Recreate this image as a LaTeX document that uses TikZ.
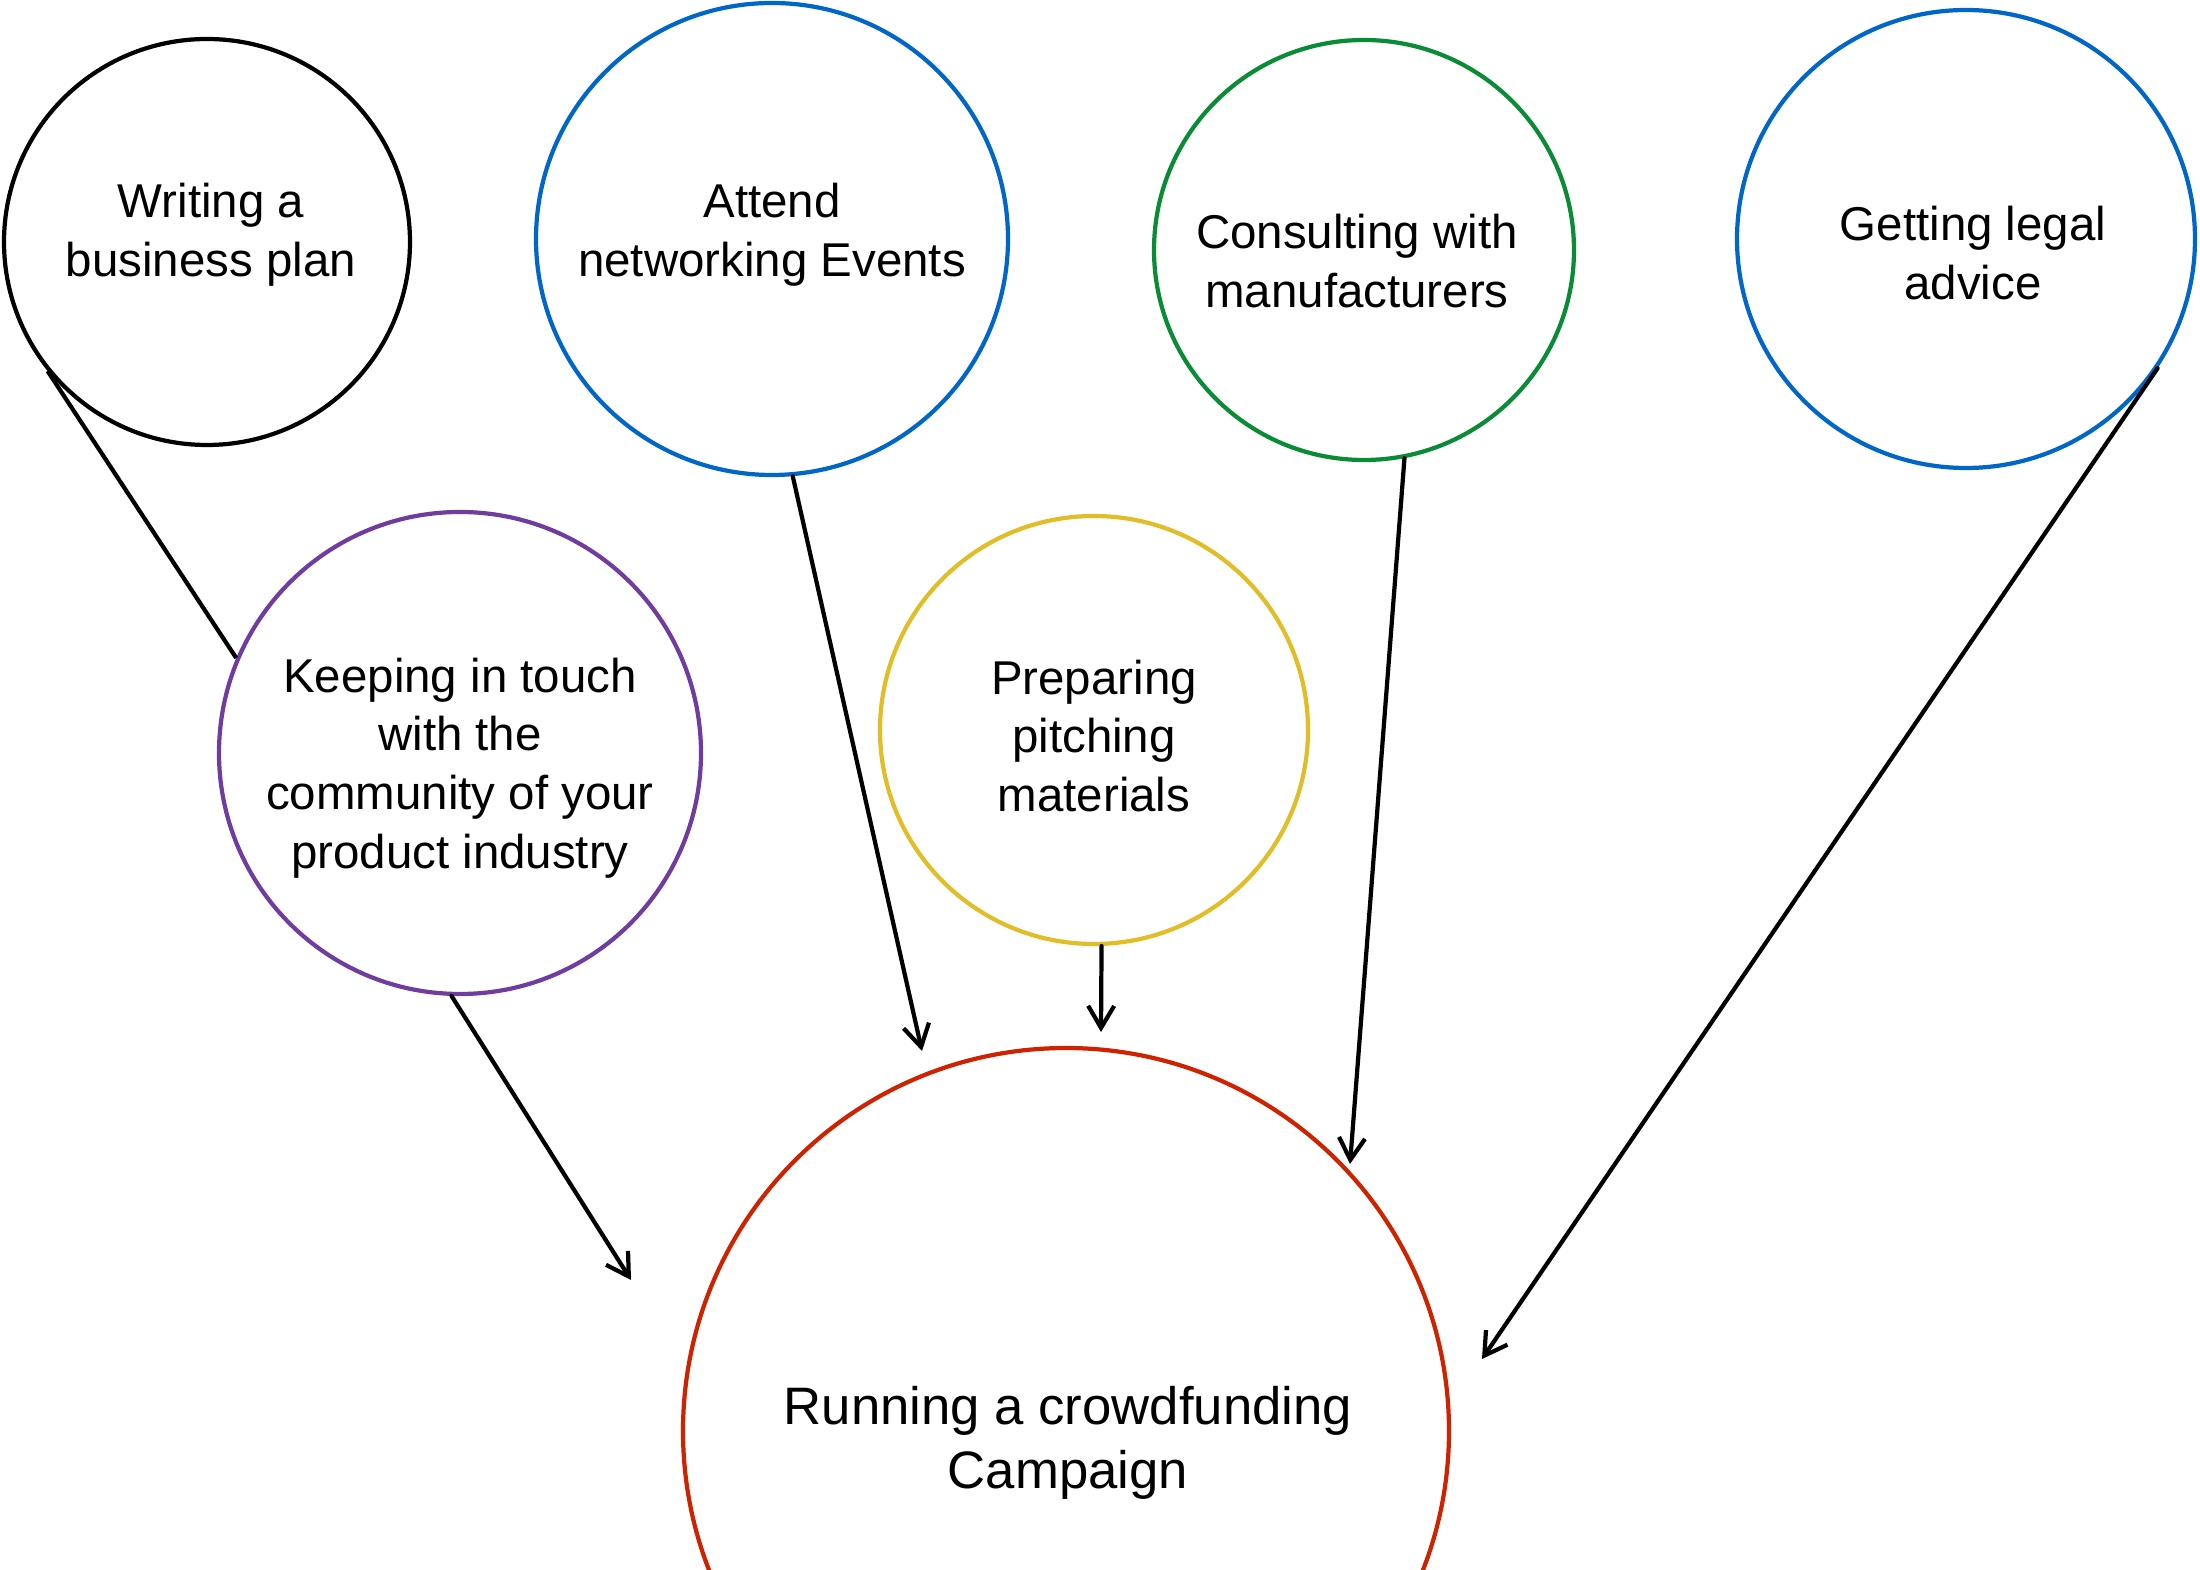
\documentclass[tikz,border=0pt]{standalone}
\usepackage{fontspec}
\setmainfont{Liberation Sans}
\usetikzlibrary{arrows.meta,positioning}

\definecolor{planblack}{RGB}{0,0,0}
\definecolor{eventblue}{RGB}{0,102,200}
\definecolor{makergreen}{RGB}{10,140,55}
\definecolor{touchpurple}{RGB}{112,60,160}
\definecolor{pitchyellow}{RGB}{225,190,40}
\definecolor{campred}{RGB}{205,35,0}

\begin{document}
\begin{tikzpicture}[x=0.1mm,y=-0.1mm,
  task/.style={circle,draw,line width=1.2pt,inner sep=0pt},
  lbl/.style={align=center,inner sep=0pt,font=\fontsize{13.5}{16.7}\selectfont},
  goallbl/.style={lbl,font=\fontsize{15}{18.2}\selectfont},
  edge/.style={line width=1.2pt,line cap=round,-{Straight Barb[length=2.2mm,width=2.6mm]}},
  link/.style={line width=1.2pt}]
\clip (0,0) rectangle (2200,1570);

\node (writ)[task,draw=planblack,minimum size=40.6mm] at (207,242) {};
\node (att)[task,draw=eventblue,minimum size=47.2mm] at (772,239) {};
\node (cons)[task,draw=makergreen,minimum size=42mm] at (1364,250) {};
\node (legal)[task,draw=eventblue,minimum size=45.8mm] at (1966,239) {};
\node (keep)[task,draw=touchpurple,minimum size=48.2mm] at (460,753) {};
\node (prep)[task,draw=pitchyellow,minimum size=42.8mm] at (1094,730) {};
\node (run)[task,draw=campred,minimum size=76.6mm] at (1066,1431) {};

% texts, nudged a little off the circle centres
\node (writtext)[lbl] at ([shift={(4,-7)}]writ.center) {Writing a\\business plan};
\node (atttext)[lbl] at ([shift={(0,-4)}]att.center) {Attend\\networking Events};
\node (constext)[lbl] at ([shift={(-7,11)}]cons.center) {Consulting with\\manufacturers};
\node (legaltext)[lbl] at ([shift={(7,14)}]legal.center) {Getting legal\\advice};
\node (keeptext)[lbl] at ([shift={(0,15)}]keep.center) {Keeping in touch\\with the\\community of your\\product industry};
\node (preptext)[lbl] at ([shift={(0,6)}]prep.center) {Preparing\\pitching\\materials};
\node (runtext)[goallbl] at ([shift={(2,12)}]run.center) {Running a crowdfunding\\Campaign};

% free arrow ends near the campaign circle
\coordinate (tb) at (631,1280);
\coordinate (tc) at (922,1051);
\coordinate (td) at (1101,1032);
\coordinate (te) at (1350,1164);
\coordinate (tf) at (1482,1359);

\draw [link] (writ.219) to (keep.157);
\draw [edge] (keep.-92) to (tb);
\draw [edge] (att.-85) to (tc);
\draw [edge] (prep.-88) to (td);
\draw [edge] (cons.-79) to (te);
\draw [edge] (legal.-34) to (tf);
\end{tikzpicture}
\end{document}
